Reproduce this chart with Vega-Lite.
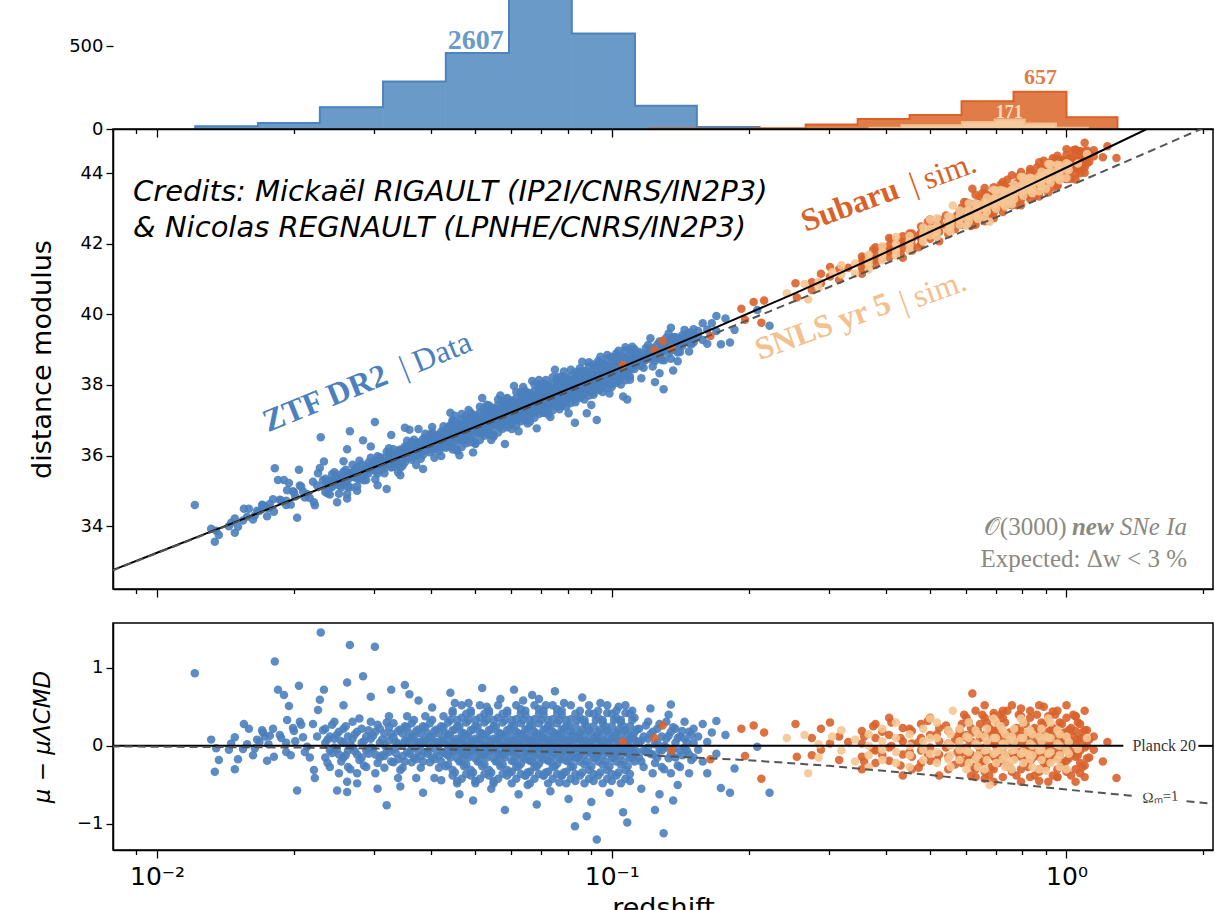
{
"$schema": "https://vega.github.io/schema/vega-lite/v6.json",
"background": "white",
"padding": {"left": 27, "top": 0, "right": 0, "bottom": 0},
"config": {
  "font": "DejaVu Sans",
  "view": {"stroke": "black", "strokeWidth": 1.5},
  "axis": {"grid": false, "domainColor": "black", "domainWidth": 1.5, "tickColor": "black", "tickWidth": 1.3, "labelColor": "black", "titleColor": "black", "labelFont": "DejaVu Sans", "titleFont": "DejaVu Sans", "titleFontWeight": "normal", "labelFlush": false, "labelOverlap": false}
},
"datasets": {
"ztf": [
{"lz":-1.917,"res":0.93,"mu":34.6},{"lz":-1.881,"res":0.08,"mu":33.93},{"lz":-1.873,"res":-0.33,"mu":33.56},{"lz":-1.87,"res":-0.03,"mu":33.87},{"lz":-1.864,"res":-0.18,"mu":33.75},{"lz":-1.842,"res":-0.05,"mu":34.0},{"lz":-1.837,"res":0.03,"mu":34.1},{"lz":-1.829,"res":0.11,"mu":34.22},{"lz":-1.829,"res":-0.3,"mu":33.81},{"lz":-1.822,"res":-0.17,"mu":33.98},{"lz":-1.811,"res":-0.04,"mu":34.16},{"lz":-1.809,"res":0.28,"mu":34.49},{"lz":-1.802,"res":0.02,"mu":34.27},{"lz":-1.798,"res":0.22,"mu":34.49},{"lz":-1.789,"res":-0.12,"mu":34.19},{"lz":-1.785,"res":-0.03,"mu":34.3},{"lz":-1.78,"res":0.08,"mu":34.44},{"lz":-1.775,"res":0.05,"mu":34.43},{"lz":-1.769,"res":0.2,"mu":34.61},{"lz":-1.767,"res":0.17,"mu":34.59},{"lz":-1.763,"res":0.12,"mu":34.56},{"lz":-1.758,"res":-0.19,"mu":34.28},{"lz":-1.755,"res":0.02,"mu":34.51},{"lz":-1.752,"res":0.13,"mu":34.63},{"lz":-1.745,"res":0.22,"mu":34.76},{"lz":-1.743,"res":-0.14,"mu":34.41},{"lz":-1.741,"res":1.08,"mu":35.64},{"lz":-1.734,"res":0.72,"mu":35.31},{"lz":-1.73,"res":0.14,"mu":34.75},{"lz":-1.727,"res":0.1,"mu":34.73},{"lz":-1.721,"res":0.65,"mu":35.31},{"lz":-1.716,"res":0.04,"mu":34.72},{"lz":-1.716,"res":-0.08,"mu":34.6},{"lz":-1.714,"res":0.33,"mu":35.02},{"lz":-1.71,"res":0.51,"mu":35.22},{"lz":-1.706,"res":-0.12,"mu":34.61},{"lz":-1.701,"res":0.23,"mu":34.99},{"lz":-1.699,"res":0.19,"mu":34.96},{"lz":-1.696,"res":0.06,"mu":34.84},{"lz":-1.692,"res":-0.57,"mu":34.24},{"lz":-1.688,"res":0.77,"mu":35.6},{"lz":-1.686,"res":0.31,"mu":35.15},{"lz":-1.683,"res":0.27,"mu":35.12},{"lz":-1.679,"res":0.11,"mu":34.98},{"lz":-1.675,"res":-0.08,"mu":34.81},{"lz":-1.67,"res":-0.01,"mu":34.91},{"lz":-1.664,"res":-0.15,"mu":34.8},{"lz":-1.657,"res":0.28,"mu":35.26},{"lz":-1.655,"res":-0.31,"mu":34.68},{"lz":-1.653,"res":-0.41,"mu":34.59},{"lz":-1.648,"res":0.12,"mu":35.15},{"lz":-1.646,"res":0.46,"mu":35.5},{"lz":-1.642,"res":0.59,"mu":35.65},{"lz":-1.64,"res":1.45,"mu":36.52},{"lz":-1.635,"res":0.2,"mu":35.3},{"lz":-1.633,"res":0.72,"mu":35.83},
{"lz":-1.63,"res":0.04,"mu":35.16},{"lz":-1.63,"res":-0.15,"mu":34.97},{"lz":-1.63,"res":0.22,"mu":35.34},
{"lz":-1.62,"res":-0.06,"mu":35.11},{"lz":-1.62,"res":0.12,"mu":35.29},{"lz":-1.62,"res":-0.27,"mu":34.9},
{"lz":-1.61,"res":0.09,"mu":35.31},{"lz":-1.61,"res":-0.02,"mu":35.2},{"lz":-1.61,"res":0.31,"mu":35.53},
{"lz":-1.6,"res":-0.11,"mu":35.16},{"lz":-1.6,"res":0.18,"mu":35.45},{"lz":-1.6,"res":-0.35,"mu":34.92},
{"lz":-1.59,"res":0.04,"mu":35.36},{"lz":-1.59,"res":-0.15,"mu":35.17},{"lz":-1.59,"res":0.22,"mu":35.54},
{"lz":-1.58,"res":-0.06,"mu":35.32},{"lz":-1.58,"res":0.12,"mu":35.5},{"lz":-1.58,"res":-0.27,"mu":35.11},
{"lz":-1.57,"res":0.09,"mu":35.52},{"lz":-1.57,"res":-0.02,"mu":35.41},{"lz":-1.57,"res":0.31,"mu":35.74},
{"lz":-1.56,"res":-0.11,"mu":35.37},{"lz":-1.56,"res":0.18,"mu":35.66},{"lz":-1.56,"res":-0.35,"mu":35.13},
{"lz":-1.55,"res":0.04,"mu":35.57},{"lz":-1.55,"res":-0.15,"mu":35.38},{"lz":-1.55,"res":0.22,"mu":35.75},
{"lz":-1.54,"res":-0.06,"mu":35.52},{"lz":-1.54,"res":0.12,"mu":35.7},{"lz":-1.54,"res":-0.27,"mu":35.31},
{"lz":-1.53,"res":0.09,"mu":35.72},{"lz":-1.53,"res":-0.02,"mu":35.61},{"lz":-1.53,"res":0.31,"mu":35.94},
{"lz":-1.52,"res":-0.11,"mu":35.57},{"lz":-1.52,"res":0.18,"mu":35.86},{"lz":-1.52,"res":-0.35,"mu":35.33},
{"lz":-1.51,"res":0.04,"mu":35.77},{"lz":-1.51,"res":-0.15,"mu":35.58},{"lz":-1.51,"res":0.22,"mu":35.95},
{"lz":-1.604,"res":-0.57,"mu":34.68},{"lz":-1.582,"res":-0.59,"mu":34.78},{"lz":-1.582,"res":-0.46,"mu":34.91},{"lz":-1.582,"res":0.81,"mu":36.18},{"lz":-1.576,"res":1.29,"mu":36.69},{"lz":-1.547,"res":0.89,"mu":36.43},{"lz":-1.521,"res":1.27,"mu":36.95},{"lz":-1.495,"res":-0.76,"mu":35.05},{"lz":-1.59,"res":0.52,"mu":35.84},{"lz":-1.56,"res":-0.48,"mu":35.0},{"lz":-1.53,"res":0.63,"mu":36.26},{"lz":-1.515,"res":-0.55,"mu":35.16},
{"lz":-1.5,"res":0.01,"mu":35.79},{"lz":-1.5,"res":-0.13,"mu":35.65},{"lz":-1.5,"res":0.16,"mu":35.94},{"lz":-1.5,"res":-0.28,"mu":35.5},
{"lz":-1.49,"res":0.07,"mu":35.9},{"lz":-1.49,"res":-0.08,"mu":35.75},{"lz":-1.49,"res":0.24,"mu":36.07},{"lz":-1.49,"res":0.38,"mu":36.21},
{"lz":-1.48,"res":-0.04,"mu":35.85},{"lz":-1.48,"res":0.11,"mu":36.0},{"lz":-1.48,"res":-0.21,"mu":35.68},{"lz":-1.48,"res":0.29,"mu":36.18},
{"lz":-1.47,"res":0.03,"mu":35.97},{"lz":-1.47,"res":-0.17,"mu":35.77},{"lz":-1.47,"res":0.19,"mu":36.13},{"lz":-1.47,"res":-0.41,"mu":35.53},
{"lz":-1.46,"res":0.01,"mu":36.0},{"lz":-1.46,"res":-0.13,"mu":35.86},{"lz":-1.46,"res":0.16,"mu":36.15},{"lz":-1.46,"res":-0.28,"mu":35.71},
{"lz":-1.45,"res":0.07,"mu":36.11},{"lz":-1.45,"res":-0.08,"mu":35.96},{"lz":-1.45,"res":0.24,"mu":36.28},{"lz":-1.45,"res":0.38,"mu":36.42},
{"lz":-1.44,"res":-0.04,"mu":36.05},{"lz":-1.44,"res":0.11,"mu":36.2},{"lz":-1.44,"res":-0.21,"mu":35.88},{"lz":-1.44,"res":0.29,"mu":36.38},
{"lz":-1.43,"res":0.03,"mu":36.17},{"lz":-1.43,"res":-0.17,"mu":35.97},{"lz":-1.43,"res":0.19,"mu":36.33},{"lz":-1.43,"res":-0.41,"mu":35.73},
{"lz":-1.42,"res":0.01,"mu":36.2},{"lz":-1.42,"res":-0.13,"mu":36.06},{"lz":-1.42,"res":0.16,"mu":36.35},{"lz":-1.42,"res":-0.28,"mu":35.91},
{"lz":-1.41,"res":0.07,"mu":36.31},{"lz":-1.41,"res":-0.08,"mu":36.16},{"lz":-1.41,"res":0.24,"mu":36.48},{"lz":-1.41,"res":0.38,"mu":36.62},
{"lz":-1.4,"res":-0.04,"mu":36.26},{"lz":-1.4,"res":0.11,"mu":36.41},{"lz":-1.4,"res":-0.21,"mu":36.09},{"lz":-1.4,"res":0.29,"mu":36.59},
{"lz":-1.39,"res":0.03,"mu":36.38},{"lz":-1.39,"res":-0.17,"mu":36.18},{"lz":-1.39,"res":0.19,"mu":36.54},{"lz":-1.39,"res":-0.41,"mu":35.94},
{"lz":-1.38,"res":0.01,"mu":36.41},{"lz":-1.38,"res":-0.13,"mu":36.27},{"lz":-1.38,"res":0.16,"mu":36.56},{"lz":-1.38,"res":-0.28,"mu":36.12},
{"lz":-1.37,"res":0.07,"mu":36.52},{"lz":-1.37,"res":-0.08,"mu":36.37},{"lz":-1.37,"res":0.24,"mu":36.69},{"lz":-1.37,"res":0.38,"mu":36.83},
{"lz":-1.485,"res":0.72,"mu":36.58},{"lz":-1.465,"res":-0.52,"mu":35.44},{"lz":-1.445,"res":0.66,"mu":36.73},{"lz":-1.425,"res":0.58,"mu":36.75},{"lz":-1.415,"res":-0.6,"mu":35.62},{"lz":-1.395,"res":0.49,"mu":36.81},{"lz":-1.375,"res":-0.44,"mu":35.99},{"lz":-1.455,"res":0.78,"mu":36.79},
{"lz":-1.36,"res":0.0,"mu":36.5},{"lz":-1.36,"res":-0.12,"mu":36.38},{"lz":-1.36,"res":0.14,"mu":36.64},{"lz":-1.36,"res":-0.24,"mu":36.26},{"lz":-1.36,"res":0.3,"mu":36.8},
{"lz":-1.35,"res":0.05,"mu":36.6},{"lz":-1.35,"res":-0.07,"mu":36.48},{"lz":-1.35,"res":0.2,"mu":36.75},{"lz":-1.35,"res":-0.31,"mu":36.24},{"lz":-1.35,"res":0.42,"mu":36.97},
{"lz":-1.34,"res":-0.03,"mu":36.58},{"lz":-1.34,"res":0.09,"mu":36.7},{"lz":-1.34,"res":-0.16,"mu":36.45},{"lz":-1.34,"res":0.25,"mu":36.86},{"lz":-1.34,"res":-0.45,"mu":36.16},
{"lz":-1.33,"res":0.08,"mu":36.74},{"lz":-1.33,"res":-0.1,"mu":36.56},{"lz":-1.33,"res":0.17,"mu":36.83},{"lz":-1.33,"res":-0.2,"mu":36.46},{"lz":-1.33,"res":0.36,"mu":37.02},
{"lz":-1.32,"res":0.0,"mu":36.71},{"lz":-1.32,"res":-0.12,"mu":36.59},{"lz":-1.32,"res":0.14,"mu":36.85},{"lz":-1.32,"res":-0.24,"mu":36.47},{"lz":-1.32,"res":0.3,"mu":37.01},
{"lz":-1.31,"res":0.05,"mu":36.81},{"lz":-1.31,"res":-0.07,"mu":36.69},{"lz":-1.31,"res":0.2,"mu":36.96},{"lz":-1.31,"res":-0.31,"mu":36.45},{"lz":-1.31,"res":0.42,"mu":37.18},
{"lz":-1.3,"res":-0.03,"mu":36.78},{"lz":-1.3,"res":0.09,"mu":36.9},{"lz":-1.3,"res":-0.16,"mu":36.65},{"lz":-1.3,"res":0.25,"mu":37.06},{"lz":-1.3,"res":-0.45,"mu":36.36},
{"lz":-1.29,"res":0.08,"mu":36.94},{"lz":-1.29,"res":-0.1,"mu":36.76},{"lz":-1.29,"res":0.17,"mu":37.03},{"lz":-1.29,"res":-0.2,"mu":36.66},{"lz":-1.29,"res":0.36,"mu":37.22},
{"lz":-1.28,"res":0.0,"mu":36.92},{"lz":-1.28,"res":-0.12,"mu":36.8},{"lz":-1.28,"res":0.14,"mu":37.06},{"lz":-1.28,"res":-0.24,"mu":36.68},{"lz":-1.28,"res":0.3,"mu":37.22},
{"lz":-1.27,"res":0.05,"mu":37.02},{"lz":-1.27,"res":-0.07,"mu":36.9},{"lz":-1.27,"res":0.2,"mu":37.17},{"lz":-1.27,"res":-0.31,"mu":36.66},{"lz":-1.27,"res":0.42,"mu":37.39},
{"lz":-1.26,"res":-0.03,"mu":36.99},{"lz":-1.26,"res":0.09,"mu":37.11},{"lz":-1.26,"res":-0.16,"mu":36.86},{"lz":-1.26,"res":0.25,"mu":37.27},{"lz":-1.26,"res":-0.45,"mu":36.57},
{"lz":-1.25,"res":0.08,"mu":37.15},{"lz":-1.25,"res":-0.1,"mu":36.97},{"lz":-1.25,"res":0.17,"mu":37.24},{"lz":-1.25,"res":-0.2,"mu":36.87},{"lz":-1.25,"res":0.36,"mu":37.43},
{"lz":-1.24,"res":0.0,"mu":37.12},{"lz":-1.24,"res":-0.12,"mu":37.0},{"lz":-1.24,"res":0.14,"mu":37.26},{"lz":-1.24,"res":-0.24,"mu":36.88},{"lz":-1.24,"res":0.3,"mu":37.42},
{"lz":-1.23,"res":0.05,"mu":37.23},{"lz":-1.23,"res":-0.07,"mu":37.11},{"lz":-1.23,"res":0.2,"mu":37.38},{"lz":-1.23,"res":-0.31,"mu":36.87},{"lz":-1.23,"res":0.42,"mu":37.6},
{"lz":-1.355,"res":0.68,"mu":37.21},{"lz":-1.335,"res":-0.62,"mu":36.01},{"lz":-1.315,"res":0.55,"mu":37.29},{"lz":-1.305,"res":-0.7,"mu":36.09},{"lz":-1.285,"res":0.74,"mu":37.63},{"lz":-1.265,"res":-0.55,"mu":36.44},{"lz":-1.245,"res":0.6,"mu":37.7},{"lz":-1.235,"res":-0.82,"mu":36.33},{"lz":-1.275,"res":0.5,"mu":37.44},{"lz":-1.345,"res":0.55,"mu":37.13},
{"lz":-1.22,"res":0.02,"mu":37.25},{"lz":-1.22,"res":-0.09,"mu":37.14},{"lz":-1.22,"res":0.12,"mu":37.35},{"lz":-1.22,"res":-0.19,"mu":37.04},{"lz":-1.22,"res":0.26,"mu":37.49},{"lz":-1.22,"res":-0.33,"mu":36.9},
{"lz":-1.21,"res":-0.05,"mu":37.23},{"lz":-1.21,"res":0.07,"mu":37.35},{"lz":-1.21,"res":-0.14,"mu":37.14},{"lz":-1.21,"res":0.18,"mu":37.46},{"lz":-1.21,"res":0.34,"mu":37.62},{"lz":-1.21,"res":-0.27,"mu":37.01},
{"lz":-1.2,"res":0.04,"mu":37.37},{"lz":-1.2,"res":-0.02,"mu":37.31},{"lz":-1.2,"res":0.15,"mu":37.48},{"lz":-1.2,"res":-0.23,"mu":37.1},{"lz":-1.2,"res":0.29,"mu":37.62},{"lz":-1.2,"res":0.47,"mu":37.8},
{"lz":-1.19,"res":-0.08,"mu":37.3},{"lz":-1.19,"res":0.1,"mu":37.48},{"lz":-1.19,"res":-0.17,"mu":37.21},{"lz":-1.19,"res":0.21,"mu":37.59},{"lz":-1.19,"res":-0.38,"mu":37.0},{"lz":-1.19,"res":0.4,"mu":37.78},
{"lz":-1.18,"res":0.02,"mu":37.46},{"lz":-1.18,"res":-0.09,"mu":37.35},{"lz":-1.18,"res":0.12,"mu":37.56},{"lz":-1.18,"res":-0.19,"mu":37.25},{"lz":-1.18,"res":0.26,"mu":37.7},{"lz":-1.18,"res":-0.33,"mu":37.11},
{"lz":-1.17,"res":-0.05,"mu":37.44},{"lz":-1.17,"res":0.07,"mu":37.56},{"lz":-1.17,"res":-0.14,"mu":37.35},{"lz":-1.17,"res":0.18,"mu":37.67},{"lz":-1.17,"res":0.34,"mu":37.83},{"lz":-1.17,"res":-0.27,"mu":37.22},
{"lz":-1.16,"res":0.04,"mu":37.58},{"lz":-1.16,"res":-0.02,"mu":37.52},{"lz":-1.16,"res":0.15,"mu":37.69},{"lz":-1.16,"res":-0.23,"mu":37.31},{"lz":-1.16,"res":0.29,"mu":37.83},{"lz":-1.16,"res":0.47,"mu":38.01},
{"lz":-1.15,"res":-0.08,"mu":37.51},{"lz":-1.15,"res":0.1,"mu":37.69},{"lz":-1.15,"res":-0.17,"mu":37.42},{"lz":-1.15,"res":0.21,"mu":37.8},{"lz":-1.15,"res":-0.38,"mu":37.21},{"lz":-1.15,"res":0.4,"mu":37.99},
{"lz":-1.14,"res":0.02,"mu":37.67},{"lz":-1.14,"res":-0.09,"mu":37.56},{"lz":-1.14,"res":0.12,"mu":37.77},{"lz":-1.14,"res":-0.19,"mu":37.46},{"lz":-1.14,"res":0.26,"mu":37.91},{"lz":-1.14,"res":-0.33,"mu":37.32},
{"lz":-1.13,"res":-0.05,"mu":37.65},{"lz":-1.13,"res":0.07,"mu":37.77},{"lz":-1.13,"res":-0.14,"mu":37.56},{"lz":-1.13,"res":0.18,"mu":37.88},{"lz":-1.13,"res":0.34,"mu":38.04},{"lz":-1.13,"res":-0.27,"mu":37.43},
{"lz":-1.12,"res":0.04,"mu":37.79},{"lz":-1.12,"res":-0.02,"mu":37.73},{"lz":-1.12,"res":0.15,"mu":37.9},{"lz":-1.12,"res":-0.23,"mu":37.52},{"lz":-1.12,"res":0.29,"mu":38.04},{"lz":-1.12,"res":0.47,"mu":38.22},
{"lz":-1.11,"res":-0.08,"mu":37.72},{"lz":-1.11,"res":0.1,"mu":37.9},{"lz":-1.11,"res":-0.17,"mu":37.63},{"lz":-1.11,"res":0.21,"mu":38.01},{"lz":-1.11,"res":-0.38,"mu":37.42},{"lz":-1.11,"res":0.4,"mu":38.2},
{"lz":-1.1,"res":0.02,"mu":37.88},{"lz":-1.1,"res":-0.09,"mu":37.77},{"lz":-1.1,"res":0.12,"mu":37.98},{"lz":-1.1,"res":-0.19,"mu":37.67},{"lz":-1.1,"res":0.26,"mu":38.12},{"lz":-1.1,"res":-0.33,"mu":37.53},
{"lz":-1.09,"res":-0.05,"mu":37.86},{"lz":-1.09,"res":0.07,"mu":37.98},{"lz":-1.09,"res":-0.14,"mu":37.77},{"lz":-1.09,"res":0.18,"mu":38.09},{"lz":-1.09,"res":0.34,"mu":38.25},{"lz":-1.09,"res":-0.27,"mu":37.64},
{"lz":-1.215,"res":0.72,"mu":37.97},{"lz":-1.205,"res":-0.62,"mu":36.69},{"lz":-1.195,"res":0.58,"mu":37.94},{"lz":-1.185,"res":-0.5,"mu":36.91},{"lz":-1.175,"res":0.65,"mu":38.11},{"lz":-1.165,"res":-0.75,"mu":36.77},{"lz":-1.145,"res":0.52,"mu":38.14},{"lz":-1.135,"res":-0.58,"mu":37.09},{"lz":-1.125,"res":0.7,"mu":38.43},{"lz":-1.115,"res":-0.47,"mu":37.31},{"lz":-1.105,"res":0.55,"mu":38.38},{"lz":-1.095,"res":-0.68,"mu":37.2},{"lz":-1.16,"res":0.6,"mu":38.14},
{"lz":-1.08,"res":-0.03,"mu":37.93},{"lz":-1.08,"res":0.09,"mu":38.05},{"lz":-1.08,"res":-0.16,"mu":37.8},{"lz":-1.08,"res":0.25,"mu":38.21},{"lz":-1.08,"res":-0.45,"mu":37.51},
{"lz":-1.07,"res":0.08,"mu":38.1},{"lz":-1.07,"res":-0.1,"mu":37.92},{"lz":-1.07,"res":0.17,"mu":38.19},{"lz":-1.07,"res":-0.2,"mu":37.82},{"lz":-1.07,"res":0.36,"mu":38.38},
{"lz":-1.06,"res":0.0,"mu":38.07},{"lz":-1.06,"res":-0.12,"mu":37.95},{"lz":-1.06,"res":0.14,"mu":38.21},{"lz":-1.06,"res":-0.24,"mu":37.83},{"lz":-1.06,"res":0.3,"mu":38.37},
{"lz":-1.05,"res":0.05,"mu":38.17},{"lz":-1.05,"res":-0.07,"mu":38.05},{"lz":-1.05,"res":0.2,"mu":38.32},{"lz":-1.05,"res":-0.31,"mu":37.81},{"lz":-1.05,"res":0.42,"mu":38.54},
{"lz":-1.04,"res":-0.03,"mu":38.14},{"lz":-1.04,"res":0.09,"mu":38.26},{"lz":-1.04,"res":-0.16,"mu":38.01},{"lz":-1.04,"res":0.25,"mu":38.42},{"lz":-1.04,"res":-0.45,"mu":37.72},
{"lz":-1.03,"res":0.08,"mu":38.31},{"lz":-1.03,"res":-0.1,"mu":38.13},{"lz":-1.03,"res":0.17,"mu":38.4},{"lz":-1.03,"res":-0.2,"mu":38.03},{"lz":-1.03,"res":0.36,"mu":38.59},
{"lz":-1.02,"res":0.0,"mu":38.28},{"lz":-1.02,"res":-0.12,"mu":38.16},{"lz":-1.02,"res":0.14,"mu":38.42},{"lz":-1.02,"res":-0.24,"mu":38.04},{"lz":-1.02,"res":0.3,"mu":38.58},
{"lz":-1.01,"res":0.05,"mu":38.38},{"lz":-1.01,"res":-0.07,"mu":38.26},{"lz":-1.01,"res":0.2,"mu":38.53},{"lz":-1.01,"res":-0.31,"mu":38.02},{"lz":-1.01,"res":0.42,"mu":38.75},
{"lz":-1.0,"res":-0.03,"mu":38.36},{"lz":-1.0,"res":0.09,"mu":38.48},{"lz":-1.0,"res":-0.16,"mu":38.23},{"lz":-1.0,"res":0.25,"mu":38.64},{"lz":-1.0,"res":-0.45,"mu":37.94},
{"lz":-0.99,"res":0.08,"mu":38.52},{"lz":-0.99,"res":-0.1,"mu":38.34},{"lz":-0.99,"res":0.17,"mu":38.61},{"lz":-0.99,"res":-0.2,"mu":38.24},{"lz":-0.99,"res":0.36,"mu":38.8},
{"lz":-0.98,"res":0.0,"mu":38.49},{"lz":-0.98,"res":-0.12,"mu":38.37},{"lz":-0.98,"res":0.14,"mu":38.63},{"lz":-0.98,"res":-0.24,"mu":38.25},{"lz":-0.98,"res":0.3,"mu":38.79},
{"lz":-0.97,"res":0.05,"mu":38.6},{"lz":-0.97,"res":-0.07,"mu":38.48},{"lz":-0.97,"res":0.2,"mu":38.75},{"lz":-0.97,"res":-0.31,"mu":38.24},{"lz":-0.97,"res":0.42,"mu":38.97},
{"lz":-0.96,"res":-0.03,"mu":38.57},{"lz":-0.96,"res":0.09,"mu":38.69},{"lz":-0.96,"res":-0.16,"mu":38.44},{"lz":-0.96,"res":0.25,"mu":38.85},{"lz":-0.96,"res":-0.45,"mu":38.15},
{"lz":-0.95,"res":0.08,"mu":38.73},{"lz":-0.95,"res":-0.1,"mu":38.55},{"lz":-0.95,"res":0.17,"mu":38.82},{"lz":-0.95,"res":-0.2,"mu":38.45},{"lz":-0.95,"res":0.36,"mu":39.01},
{"lz":-1.081,"res":-1.03,"mu":36.93},{"lz":-1.033,"res":-1.2,"mu":37.01},{"lz":-1.065,"res":0.62,"mu":38.66},{"lz":-1.045,"res":-0.72,"mu":37.43},{"lz":-1.025,"res":0.55,"mu":38.8},{"lz":-1.005,"res":-0.6,"mu":37.76},{"lz":-0.985,"res":0.5,"mu":38.97},{"lz":-0.975,"res":-0.85,"mu":37.67},{"lz":-0.955,"res":0.45,"mu":39.08},{"lz":-1.055,"res":-0.9,"mu":37.2},
{"lz":-0.94,"res":0.04,"mu":38.75},{"lz":-0.94,"res":-0.15,"mu":38.56},{"lz":-0.94,"res":0.22,"mu":38.93},
{"lz":-0.93,"res":-0.06,"mu":38.7},{"lz":-0.93,"res":0.12,"mu":38.88},{"lz":-0.93,"res":-0.27,"mu":38.49},
{"lz":-0.92,"res":0.09,"mu":38.91},{"lz":-0.92,"res":-0.02,"mu":38.8},{"lz":-0.92,"res":0.31,"mu":39.13},
{"lz":-0.91,"res":-0.11,"mu":38.76},{"lz":-0.91,"res":0.18,"mu":39.05},{"lz":-0.91,"res":-0.35,"mu":38.52},
{"lz":-0.9,"res":0.04,"mu":38.96},{"lz":-0.9,"res":-0.15,"mu":38.77},{"lz":-0.9,"res":0.22,"mu":39.14},
{"lz":-0.89,"res":-0.06,"mu":38.92},{"lz":-0.89,"res":0.12,"mu":39.1},{"lz":-0.89,"res":-0.27,"mu":38.71},
{"lz":-0.88,"res":0.09,"mu":39.12},{"lz":-0.88,"res":-0.02,"mu":39.01},{"lz":-0.88,"res":0.31,"mu":39.34},
{"lz":-0.87,"res":-0.11,"mu":38.98},{"lz":-0.87,"res":0.18,"mu":39.27},{"lz":-0.87,"res":-0.35,"mu":38.74},
{"lz":-0.86,"res":0.04,"mu":39.18},{"lz":-0.86,"res":-0.15,"mu":38.99},{"lz":-0.86,"res":0.22,"mu":39.36},
{"lz":-0.85,"res":-0.06,"mu":39.14},{"lz":-0.85,"res":0.12,"mu":39.32},{"lz":-0.85,"res":-0.27,"mu":38.93},
{"lz":-0.84,"res":0.09,"mu":39.34},{"lz":-0.84,"res":-0.02,"mu":39.23},{"lz":-0.84,"res":0.31,"mu":39.56},
{"lz":-0.83,"res":-0.11,"mu":39.19},{"lz":-0.83,"res":0.18,"mu":39.48},{"lz":-0.83,"res":-0.35,"mu":38.95},
{"lz":-0.82,"res":0.04,"mu":39.4},{"lz":-0.82,"res":-0.15,"mu":39.21},{"lz":-0.82,"res":0.22,"mu":39.58},
{"lz":-0.935,"res":-0.55,"mu":38.19},{"lz":-0.915,"res":0.48,"mu":39.32},{"lz":-0.895,"res":-0.62,"mu":38.33},{"lz":-0.875,"res":0.4,"mu":39.46},{"lz":-0.855,"res":-0.5,"mu":38.67},{"lz":-0.905,"res":-0.82,"mu":38.08},{"lz":-0.865,"res":-0.7,"mu":38.41},{"lz":-0.87,"res":0.53,"mu":39.62},{"lz":-0.886,"res":-1.12,"mu":37.88},{"lz":-0.966,"res":-0.98,"mu":37.59},
{"lz":-0.81,"res":0.12,"mu":39.53},{"lz":-0.81,"res":-0.05,"mu":39.36},{"lz":-0.8,"res":-0.2,"mu":39.27},{"lz":-0.8,"res":0.28,"mu":39.75},{"lz":-0.79,"res":0.05,"mu":39.57},{"lz":-0.79,"res":-0.35,"mu":39.17},{"lz":-0.78,"res":0.17,"mu":39.75},{"lz":-0.77,"res":-0.1,"mu":39.53},{"lz":-0.77,"res":0.32,"mu":39.95},{"lz":-0.76,"res":-0.54,"mu":39.15},{"lz":-0.75,"res":0.14,"mu":39.88},{"lz":-0.74,"res":-0.6,"mu":39.2},{"lz":-0.73,"res":-0.29,"mu":39.56},{"lz":-0.68,"res":-0.01,"mu":40.12},{"lz":-0.653,"res":-0.6,"mu":39.68},
{"lz":-1.455,"res":0.07,"mu":36.08},{"lz":-1.455,"res":-0.2,"mu":35.81},{"lz":-1.455,"res":0.25,"mu":36.26},
{"lz":-1.445,"res":-0.1,"mu":35.96},{"lz":-1.445,"res":0.16,"mu":36.22},{"lz":-1.445,"res":0.03,"mu":36.09},
{"lz":-1.435,"res":0.12,"mu":36.24},{"lz":-1.435,"res":-0.15,"mu":35.97},{"lz":-1.435,"res":0.33,"mu":36.45},
{"lz":-1.425,"res":-0.07,"mu":36.1},{"lz":-1.425,"res":0.05,"mu":36.22},{"lz":-1.425,"res":0.21,"mu":36.38},
{"lz":-1.415,"res":0.07,"mu":36.29},{"lz":-1.415,"res":-0.2,"mu":36.02},{"lz":-1.415,"res":0.25,"mu":36.47},
{"lz":-1.405,"res":-0.1,"mu":36.17},{"lz":-1.405,"res":0.16,"mu":36.43},{"lz":-1.405,"res":0.03,"mu":36.3},
{"lz":-1.395,"res":0.12,"mu":36.44},{"lz":-1.395,"res":-0.15,"mu":36.17},{"lz":-1.395,"res":0.33,"mu":36.65},
{"lz":-1.385,"res":-0.07,"mu":36.3},{"lz":-1.385,"res":0.05,"mu":36.42},{"lz":-1.385,"res":0.21,"mu":36.58},
{"lz":-1.375,"res":0.07,"mu":36.5},{"lz":-1.375,"res":-0.2,"mu":36.23},{"lz":-1.375,"res":0.25,"mu":36.68},
{"lz":-1.365,"res":-0.1,"mu":36.38},{"lz":-1.365,"res":0.16,"mu":36.64},{"lz":-1.365,"res":0.03,"mu":36.51},{"lz":-1.365,"res":-0.26,"mu":36.22},
{"lz":-1.355,"res":0.12,"mu":36.65},{"lz":-1.355,"res":-0.15,"mu":36.38},{"lz":-1.355,"res":0.33,"mu":36.86},{"lz":-1.355,"res":-0.02,"mu":36.51},
{"lz":-1.345,"res":-0.07,"mu":36.51},{"lz":-1.345,"res":0.05,"mu":36.63},{"lz":-1.345,"res":0.21,"mu":36.79},{"lz":-1.345,"res":-0.34,"mu":36.24},
{"lz":-1.335,"res":0.07,"mu":36.7},{"lz":-1.335,"res":-0.2,"mu":36.43},{"lz":-1.335,"res":0.25,"mu":36.88},{"lz":-1.335,"res":-0.05,"mu":36.58},
{"lz":-1.325,"res":-0.1,"mu":36.58},{"lz":-1.325,"res":0.16,"mu":36.84},{"lz":-1.325,"res":0.03,"mu":36.71},{"lz":-1.325,"res":-0.26,"mu":36.42},
{"lz":-1.315,"res":0.12,"mu":36.85},{"lz":-1.315,"res":-0.15,"mu":36.58},{"lz":-1.315,"res":0.33,"mu":37.06},{"lz":-1.315,"res":-0.02,"mu":36.71},
{"lz":-1.305,"res":-0.07,"mu":36.72},{"lz":-1.305,"res":0.05,"mu":36.84},{"lz":-1.305,"res":0.21,"mu":37.0},{"lz":-1.305,"res":-0.34,"mu":36.45},
{"lz":-1.295,"res":0.07,"mu":36.91},{"lz":-1.295,"res":-0.2,"mu":36.64},{"lz":-1.295,"res":0.25,"mu":37.09},{"lz":-1.295,"res":-0.05,"mu":36.79},
{"lz":-1.285,"res":-0.1,"mu":36.79},{"lz":-1.285,"res":0.16,"mu":37.05},{"lz":-1.285,"res":0.03,"mu":36.92},{"lz":-1.285,"res":-0.26,"mu":36.63},
{"lz":-1.275,"res":0.12,"mu":37.06},{"lz":-1.275,"res":-0.15,"mu":36.79},{"lz":-1.275,"res":0.33,"mu":37.27},{"lz":-1.275,"res":-0.02,"mu":36.92},
{"lz":-1.265,"res":-0.07,"mu":36.92},{"lz":-1.265,"res":0.05,"mu":37.04},{"lz":-1.265,"res":0.21,"mu":37.2},{"lz":-1.265,"res":-0.34,"mu":36.65},
{"lz":-1.255,"res":0.07,"mu":37.12},{"lz":-1.255,"res":-0.2,"mu":36.85},{"lz":-1.255,"res":0.25,"mu":37.3},{"lz":-1.255,"res":-0.05,"mu":37.0},
{"lz":-1.245,"res":-0.1,"mu":37.0},{"lz":-1.245,"res":0.16,"mu":37.26},{"lz":-1.245,"res":0.03,"mu":37.13},{"lz":-1.245,"res":-0.26,"mu":36.84},
{"lz":-1.235,"res":0.12,"mu":37.27},{"lz":-1.235,"res":-0.15,"mu":37.0},{"lz":-1.235,"res":0.33,"mu":37.48},{"lz":-1.235,"res":-0.02,"mu":37.13},
{"lz":-1.225,"res":-0.07,"mu":37.13},{"lz":-1.225,"res":0.05,"mu":37.25},{"lz":-1.225,"res":0.21,"mu":37.41},{"lz":-1.225,"res":-0.34,"mu":36.86},
{"lz":-1.215,"res":0.07,"mu":37.32},{"lz":-1.215,"res":-0.2,"mu":37.05},{"lz":-1.215,"res":0.25,"mu":37.5},{"lz":-1.215,"res":-0.05,"mu":37.2},
{"lz":-1.205,"res":-0.1,"mu":37.21},{"lz":-1.205,"res":0.16,"mu":37.47},{"lz":-1.205,"res":0.03,"mu":37.34},{"lz":-1.205,"res":-0.26,"mu":37.05},
{"lz":-1.195,"res":0.12,"mu":37.48},{"lz":-1.195,"res":-0.15,"mu":37.21},{"lz":-1.195,"res":0.33,"mu":37.69},{"lz":-1.195,"res":-0.02,"mu":37.34},
{"lz":-1.185,"res":-0.07,"mu":37.34},{"lz":-1.185,"res":0.05,"mu":37.46},{"lz":-1.185,"res":0.21,"mu":37.62},{"lz":-1.185,"res":-0.34,"mu":37.07},
{"lz":-1.175,"res":0.07,"mu":37.53},{"lz":-1.175,"res":-0.2,"mu":37.26},{"lz":-1.175,"res":0.25,"mu":37.71},{"lz":-1.175,"res":-0.05,"mu":37.41},
{"lz":-1.165,"res":-0.1,"mu":37.42},{"lz":-1.165,"res":0.16,"mu":37.68},{"lz":-1.165,"res":0.03,"mu":37.55},{"lz":-1.165,"res":-0.26,"mu":37.26},
{"lz":-1.155,"res":0.12,"mu":37.69},{"lz":-1.155,"res":-0.15,"mu":37.42},{"lz":-1.155,"res":0.33,"mu":37.9},{"lz":-1.155,"res":-0.02,"mu":37.55},
{"lz":-1.145,"res":-0.07,"mu":37.55},{"lz":-1.145,"res":0.05,"mu":37.67},{"lz":-1.145,"res":0.21,"mu":37.83},{"lz":-1.145,"res":-0.34,"mu":37.28},
{"lz":-1.135,"res":0.07,"mu":37.74},{"lz":-1.135,"res":-0.2,"mu":37.47},{"lz":-1.135,"res":0.25,"mu":37.92},{"lz":-1.135,"res":-0.05,"mu":37.62},
{"lz":-1.125,"res":-0.1,"mu":37.63},{"lz":-1.125,"res":0.16,"mu":37.89},{"lz":-1.125,"res":0.03,"mu":37.76},{"lz":-1.125,"res":-0.26,"mu":37.47},
{"lz":-1.115,"res":0.12,"mu":37.9},{"lz":-1.115,"res":-0.15,"mu":37.63},{"lz":-1.115,"res":0.33,"mu":38.11},{"lz":-1.115,"res":-0.02,"mu":37.76},
{"lz":-1.105,"res":-0.07,"mu":37.76},{"lz":-1.105,"res":0.05,"mu":37.88},{"lz":-1.105,"res":0.21,"mu":38.04},{"lz":-1.105,"res":-0.34,"mu":37.49},
{"lz":-1.095,"res":0.07,"mu":37.95},{"lz":-1.095,"res":-0.2,"mu":37.68},{"lz":-1.095,"res":0.25,"mu":38.13},{"lz":-1.095,"res":-0.05,"mu":37.83},
{"lz":-1.085,"res":-0.1,"mu":37.84},{"lz":-1.085,"res":0.16,"mu":38.1},{"lz":-1.085,"res":0.03,"mu":37.97},{"lz":-1.085,"res":-0.26,"mu":37.68},
{"lz":-1.075,"res":0.12,"mu":38.11},{"lz":-1.075,"res":-0.15,"mu":37.84},{"lz":-1.075,"res":0.33,"mu":38.32},{"lz":-1.075,"res":-0.02,"mu":37.97},
{"lz":-1.065,"res":-0.07,"mu":37.97},{"lz":-1.065,"res":0.05,"mu":38.09},{"lz":-1.065,"res":0.21,"mu":38.25},{"lz":-1.065,"res":-0.34,"mu":37.7},
{"lz":-1.055,"res":0.07,"mu":38.16},{"lz":-1.055,"res":-0.2,"mu":37.89},{"lz":-1.055,"res":0.25,"mu":38.34},{"lz":-1.055,"res":-0.05,"mu":38.04},
{"lz":-1.045,"res":-0.1,"mu":38.05},{"lz":-1.045,"res":0.16,"mu":38.31},{"lz":-1.045,"res":0.03,"mu":38.18},{"lz":-1.045,"res":-0.26,"mu":37.89},
{"lz":-1.035,"res":0.12,"mu":38.32},{"lz":-1.035,"res":-0.15,"mu":38.05},{"lz":-1.035,"res":0.33,"mu":38.53},{"lz":-1.035,"res":-0.02,"mu":38.18},
{"lz":-1.025,"res":-0.07,"mu":38.18},{"lz":-1.025,"res":0.05,"mu":38.3},{"lz":-1.025,"res":0.21,"mu":38.46},{"lz":-1.025,"res":-0.34,"mu":37.91},
{"lz":-1.015,"res":0.07,"mu":38.38},{"lz":-1.015,"res":-0.2,"mu":38.11},{"lz":-1.015,"res":0.25,"mu":38.56},{"lz":-1.015,"res":-0.05,"mu":38.26},
{"lz":-1.005,"res":-0.1,"mu":38.26},{"lz":-1.005,"res":0.16,"mu":38.52},{"lz":-1.005,"res":0.03,"mu":38.39},{"lz":-1.005,"res":-0.26,"mu":38.1},
{"lz":-0.995,"res":0.12,"mu":38.53},{"lz":-0.995,"res":-0.15,"mu":38.26},{"lz":-0.995,"res":0.33,"mu":38.74},{"lz":-0.995,"res":-0.02,"mu":38.39},
{"lz":-0.985,"res":-0.07,"mu":38.4},{"lz":-0.985,"res":0.05,"mu":38.52},{"lz":-0.985,"res":0.21,"mu":38.68},{"lz":-0.985,"res":-0.34,"mu":38.13},
{"lz":-0.975,"res":0.07,"mu":38.59},{"lz":-0.975,"res":-0.2,"mu":38.32},{"lz":-0.975,"res":0.25,"mu":38.77},{"lz":-0.975,"res":-0.05,"mu":38.47},
{"lz":-0.965,"res":-0.1,"mu":38.47},{"lz":-0.965,"res":0.16,"mu":38.73},{"lz":-0.965,"res":0.03,"mu":38.6},{"lz":-0.965,"res":-0.26,"mu":38.31},
{"lz":-0.955,"res":0.12,"mu":38.75},{"lz":-0.955,"res":-0.15,"mu":38.48},{"lz":-0.955,"res":0.33,"mu":38.96},{"lz":-0.955,"res":-0.02,"mu":38.61},
{"lz":-0.945,"res":-0.07,"mu":38.61},{"lz":-0.945,"res":0.05,"mu":38.73},{"lz":-0.945,"res":0.21,"mu":38.89},
{"lz":-1.625,"res":0.08,"mu":35.23},{"lz":-1.625,"res":-0.22,"mu":34.93},{"lz":-1.615,"res":-0.09,"mu":35.11},{"lz":-1.615,"res":0.27,"mu":35.47},{"lz":-1.605,"res":0.14,"mu":35.39},{"lz":-1.605,"res":-0.04,"mu":35.21},{"lz":-1.595,"res":-0.2,"mu":35.1},{"lz":-1.595,"res":0.06,"mu":35.36},{"lz":-1.585,"res":0.25,"mu":35.6},{"lz":-1.585,"res":-0.12,"mu":35.23},{"lz":-1.575,"res":0.02,"mu":35.42},{"lz":-1.575,"res":-0.3,"mu":35.1},{"lz":-1.565,"res":0.15,"mu":35.6},{"lz":-1.565,"res":-0.07,"mu":35.38},{"lz":-1.555,"res":-0.18,"mu":35.32},{"lz":-1.555,"res":0.35,"mu":35.85},{"lz":-1.545,"res":0.06,"mu":35.61},{"lz":-1.545,"res":-0.25,"mu":35.3},{"lz":-1.535,"res":-0.1,"mu":35.5},{"lz":-1.535,"res":0.2,"mu":35.8},{"lz":-1.525,"res":0.13,"mu":35.79},{"lz":-1.525,"res":-0.03,"mu":35.63},{"lz":-1.515,"res":-0.22,"mu":35.49},{"lz":-1.515,"res":0.27,"mu":35.98},{"lz":-1.505,"res":0.08,"mu":35.84},{"lz":-1.505,"res":-0.12,"mu":35.64},{"lz":-1.495,"res":-0.05,"mu":35.76},{"lz":-1.495,"res":0.3,"mu":36.11},{"lz":-1.485,"res":0.16,"mu":36.02},{"lz":-1.485,"res":-0.2,"mu":35.66},{"lz":-1.475,"res":-0.09,"mu":35.82},{"lz":-1.475,"res":0.05,"mu":35.96},{"lz":-1.465,"res":0.21,"mu":36.17},{"lz":-1.465,"res":-0.31,"mu":35.65},
{"lz":-0.935,"res":0.07,"mu":38.81},{"lz":-0.935,"res":-0.2,"mu":38.54},{"lz":-0.925,"res":-0.08,"mu":38.71},{"lz":-0.925,"res":0.26,"mu":39.05},{"lz":-0.915,"res":0.15,"mu":38.99},{"lz":-0.915,"res":-0.1,"mu":38.74},{"lz":-0.905,"res":-0.22,"mu":38.68},{"lz":-0.905,"res":0.02,"mu":38.92},{"lz":-0.895,"res":0.28,"mu":39.23},{"lz":-0.895,"res":-0.05,"mu":38.9},{"lz":-0.885,"res":0.0,"mu":39.0},{"lz":-0.885,"res":-0.3,"mu":38.7},{"lz":-0.875,"res":0.13,"mu":39.19},{"lz":-0.875,"res":-0.16,"mu":38.9},{"lz":-0.865,"res":-0.04,"mu":39.07},{"lz":-0.865,"res":0.24,"mu":39.35},{"lz":-0.855,"res":0.1,"mu":39.27},{"lz":-0.855,"res":-0.25,"mu":38.92},{"lz":-0.845,"res":-0.12,"mu":39.1},{"lz":-0.845,"res":0.19,"mu":39.41},{"lz":-0.835,"res":0.05,"mu":39.33},{"lz":-0.835,"res":-0.06,"mu":39.22},{"lz":-0.825,"res":-0.18,"mu":39.15},{"lz":-0.825,"res":0.14,"mu":39.47},
{"lz":-1.35,"res":0.45,"mu":37.0},{"lz":-1.35,"res":-0.38,"mu":36.17},{"lz":-1.34,"res":-0.48,"mu":36.13},{"lz":-1.34,"res":0.33,"mu":36.94},{"lz":-1.33,"res":0.52,"mu":37.18},{"lz":-1.33,"res":-0.42,"mu":36.24},{"lz":-1.32,"res":-0.36,"mu":36.35},{"lz":-1.32,"res":0.41,"mu":37.12},
{"lz":-1.31,"res":0.45,"mu":37.21},{"lz":-1.31,"res":-0.38,"mu":36.38},{"lz":-1.3,"res":-0.48,"mu":36.33},{"lz":-1.3,"res":0.33,"mu":37.14},{"lz":-1.29,"res":0.52,"mu":37.38},{"lz":-1.29,"res":-0.42,"mu":36.44},{"lz":-1.28,"res":-0.36,"mu":36.56},{"lz":-1.28,"res":0.41,"mu":37.33},
{"lz":-1.27,"res":0.45,"mu":37.42},{"lz":-1.27,"res":-0.38,"mu":36.59},{"lz":-1.26,"res":-0.48,"mu":36.54},{"lz":-1.26,"res":0.33,"mu":37.35},{"lz":-1.25,"res":0.52,"mu":37.59},{"lz":-1.25,"res":-0.42,"mu":36.65},{"lz":-1.24,"res":-0.36,"mu":36.76},{"lz":-1.24,"res":0.41,"mu":37.53},
{"lz":-1.23,"res":0.45,"mu":37.63},{"lz":-1.23,"res":-0.38,"mu":36.8},{"lz":-1.22,"res":-0.48,"mu":36.75},{"lz":-1.22,"res":0.33,"mu":37.56},{"lz":-1.21,"res":0.52,"mu":37.8},{"lz":-1.21,"res":-0.42,"mu":36.86},{"lz":-1.2,"res":-0.36,"mu":36.97},{"lz":-1.2,"res":0.41,"mu":37.74},
{"lz":-1.19,"res":0.45,"mu":37.83},{"lz":-1.19,"res":-0.38,"mu":37.0},{"lz":-1.18,"res":-0.48,"mu":36.96},{"lz":-1.18,"res":0.33,"mu":37.77},{"lz":-1.17,"res":0.52,"mu":38.01},{"lz":-1.17,"res":-0.42,"mu":37.07},{"lz":-1.16,"res":-0.36,"mu":37.18},{"lz":-1.16,"res":0.41,"mu":37.95},
{"lz":-1.15,"res":0.45,"mu":38.04},{"lz":-1.15,"res":-0.38,"mu":37.21},{"lz":-1.14,"res":-0.48,"mu":37.17},{"lz":-1.14,"res":0.33,"mu":37.98},{"lz":-1.13,"res":0.52,"mu":38.22},{"lz":-1.13,"res":-0.42,"mu":37.28},{"lz":-1.12,"res":-0.36,"mu":37.39},{"lz":-1.12,"res":0.41,"mu":38.16},
{"lz":-1.11,"res":0.45,"mu":38.25},{"lz":-1.11,"res":-0.38,"mu":37.42},{"lz":-1.1,"res":-0.48,"mu":37.38},{"lz":-1.1,"res":0.33,"mu":38.19},{"lz":-1.09,"res":0.52,"mu":38.43},{"lz":-1.09,"res":-0.42,"mu":37.49},{"lz":-1.08,"res":-0.36,"mu":37.6},{"lz":-1.08,"res":0.41,"mu":38.37},
{"lz":-1.07,"res":0.45,"mu":38.47},{"lz":-1.07,"res":-0.38,"mu":37.64},{"lz":-1.06,"res":-0.48,"mu":37.59},{"lz":-1.06,"res":0.33,"mu":38.4},{"lz":-1.05,"res":0.52,"mu":38.64},{"lz":-1.05,"res":-0.42,"mu":37.7},{"lz":-1.04,"res":-0.36,"mu":37.81},{"lz":-1.04,"res":0.41,"mu":38.58},
{"lz":-1.03,"res":0.45,"mu":38.68},{"lz":-1.03,"res":-0.38,"mu":37.85},{"lz":-1.02,"res":-0.48,"mu":37.8},{"lz":-1.02,"res":0.33,"mu":38.61},{"lz":-1.01,"res":0.52,"mu":38.85},{"lz":-1.01,"res":-0.42,"mu":37.91},{"lz":-1.0,"res":-0.36,"mu":38.03},{"lz":-1.0,"res":0.41,"mu":38.8},
{"lz":-0.99,"res":0.45,"mu":38.89},{"lz":-0.99,"res":-0.38,"mu":38.06},{"lz":-0.98,"res":-0.48,"mu":38.01},{"lz":-0.98,"res":0.33,"mu":38.82},{"lz":-0.97,"res":0.52,"mu":39.07},{"lz":-0.97,"res":-0.42,"mu":38.13},{"lz":-0.96,"res":-0.36,"mu":38.24},{"lz":-0.96,"res":0.41,"mu":39.01}
],
"subaru": [
{"lz":-0.976,"res":0.05,"mu":38.57},{"lz":-0.906,"res":0.1,"mu":38.99},{"lz":-0.888,"res":0.26,"mu":39.25},{"lz":-0.868,"res":-0.06,"mu":39.04},{"lz":-0.783,"res":-0.17,"mu":39.39},{"lz":-0.715,"res":0.22,"mu":40.16},{"lz":-0.688,"res":0.26,"mu":40.35},{"lz":-0.665,"res":0.17,"mu":40.39},{"lz":-0.707,"res":-0.13,"mu":39.85},{"lz":-0.671,"res":-0.42,"mu":39.76},{"lz":-0.596,"res":0.28,"mu":40.88},{"lz":-0.593,"res":-0.14,"mu":40.48},
{"lz":-0.56,"res":0.1,"mu":40.91},{"lz":-0.56,"res":-0.12,"mu":40.69},{"lz":-0.54,"res":0.22,"mu":41.15},{"lz":-0.54,"res":-0.05,"mu":40.88},{"lz":-0.52,"res":0.03,"mu":41.07},{"lz":-0.52,"res":0.3,"mu":41.34},{"lz":-0.5,"res":-0.18,"mu":40.98},{"lz":-0.5,"res":0.12,"mu":41.28},{"lz":-0.48,"res":0.05,"mu":41.32},
{"lz":-0.45,"res":0.03,"mu":41.48},{"lz":-0.45,"res":-0.14,"mu":41.31},{"lz":-0.45,"res":0.19,"mu":41.64},{"lz":-0.45,"res":-0.3,"mu":41.15},
{"lz":-0.42,"res":0.1,"mu":41.72},{"lz":-0.42,"res":-0.06,"mu":41.56},{"lz":-0.42,"res":0.28,"mu":41.9},{"lz":-0.42,"res":-0.22,"mu":41.4},
{"lz":-0.39,"res":-0.02,"mu":41.78},{"lz":-0.39,"res":0.14,"mu":41.94},{"lz":-0.39,"res":-0.19,"mu":41.61},{"lz":-0.39,"res":0.36,"mu":42.16},
{"lz":-0.36,"res":0.06,"mu":42.04},{"lz":-0.36,"res":-0.11,"mu":41.87},{"lz":-0.36,"res":0.23,"mu":42.21},{"lz":-0.36,"res":-0.38,"mu":41.6},
{"lz":-0.34,"res":0.03,"mu":42.13},{"lz":-0.34,"res":-0.14,"mu":41.96},{"lz":-0.34,"res":0.19,"mu":42.29},{"lz":-0.34,"res":-0.3,"mu":41.8},
{"lz":-0.32,"res":0.1,"mu":42.31},{"lz":-0.32,"res":-0.06,"mu":42.15},{"lz":-0.32,"res":0.28,"mu":42.49},{"lz":-0.32,"res":-0.22,"mu":41.99},
{"lz":-0.3,"res":-0.02,"mu":42.31},{"lz":-0.3,"res":0.14,"mu":42.47},{"lz":-0.3,"res":-0.19,"mu":42.14},{"lz":-0.3,"res":0.36,"mu":42.69},
{"lz":-0.28,"res":0.06,"mu":42.51},{"lz":-0.28,"res":-0.11,"mu":42.34},{"lz":-0.28,"res":0.23,"mu":42.68},{"lz":-0.28,"res":-0.38,"mu":42.07},
{"lz":-0.26,"res":0.03,"mu":42.6},{"lz":-0.26,"res":-0.14,"mu":42.43},{"lz":-0.26,"res":0.19,"mu":42.76},{"lz":-0.26,"res":-0.3,"mu":42.27},
{"lz":-0.24,"res":0.12,"mu":42.81},{"lz":-0.24,"res":-0.08,"mu":42.61},
{"lz":-0.23,"res":0.1,"mu":42.85},{"lz":-0.23,"res":-0.06,"mu":42.69},{"lz":-0.23,"res":0.28,"mu":43.03},{"lz":-0.23,"res":-0.22,"mu":42.53},
{"lz":-0.22,"res":-0.02,"mu":42.79},{"lz":-0.22,"res":0.14,"mu":42.95},{"lz":-0.22,"res":-0.19,"mu":42.62},{"lz":-0.22,"res":0.36,"mu":43.17},
{"lz":-0.21,"res":0.06,"mu":42.94},{"lz":-0.21,"res":-0.11,"mu":42.77},{"lz":-0.21,"res":0.23,"mu":43.11},{"lz":-0.21,"res":-0.38,"mu":42.5},
{"lz":-0.207,"res":0.67,"mu":43.56},
{"lz":-0.2,"res":0.03,"mu":42.97},{"lz":-0.2,"res":-0.14,"mu":42.8},{"lz":-0.2,"res":0.19,"mu":43.13},{"lz":-0.2,"res":-0.3,"mu":42.64},
{"lz":-0.19,"res":0.1,"mu":43.1},{"lz":-0.19,"res":-0.06,"mu":42.94},{"lz":-0.19,"res":0.28,"mu":43.28},{"lz":-0.19,"res":-0.22,"mu":42.78},
{"lz":-0.18,"res":-0.02,"mu":43.04},{"lz":-0.18,"res":0.14,"mu":43.2},{"lz":-0.18,"res":-0.19,"mu":42.87},{"lz":-0.18,"res":0.36,"mu":43.42},
{"lz":-0.17,"res":0.06,"mu":43.18},{"lz":-0.17,"res":-0.11,"mu":43.01},{"lz":-0.17,"res":0.23,"mu":43.35},{"lz":-0.17,"res":-0.38,"mu":42.74},
{"lz":-0.16,"res":0.03,"mu":43.21},{"lz":-0.16,"res":-0.14,"mu":43.04},{"lz":-0.16,"res":0.19,"mu":43.37},{"lz":-0.16,"res":-0.3,"mu":42.88},
{"lz":-0.15,"res":0.1,"mu":43.34},{"lz":-0.15,"res":-0.06,"mu":43.18},{"lz":-0.15,"res":0.28,"mu":43.52},{"lz":-0.15,"res":-0.22,"mu":43.02},
{"lz":-0.14,"res":-0.02,"mu":43.28},{"lz":-0.14,"res":0.14,"mu":43.44},{"lz":-0.14,"res":-0.19,"mu":43.11},{"lz":-0.14,"res":0.36,"mu":43.66},
{"lz":-0.13,"res":0.04,"mu":43.4},{"lz":-0.13,"res":-0.25,"mu":43.11},{"lz":-0.13,"res":0.45,"mu":43.81},
{"lz":-0.12,"res":0.15,"mu":43.57},{"lz":-0.12,"res":-0.09,"mu":43.33},
{"lz":-0.11,"res":0.06,"mu":43.54},{"lz":-0.11,"res":-0.11,"mu":43.37},{"lz":-0.11,"res":0.23,"mu":43.71},{"lz":-0.11,"res":-0.38,"mu":43.1},
{"lz":-0.1,"res":0.03,"mu":43.58},{"lz":-0.1,"res":-0.14,"mu":43.41},{"lz":-0.1,"res":0.19,"mu":43.74},{"lz":-0.1,"res":-0.3,"mu":43.25},
{"lz":-0.09,"res":0.1,"mu":43.71},{"lz":-0.09,"res":-0.06,"mu":43.55},{"lz":-0.09,"res":0.28,"mu":43.89},{"lz":-0.09,"res":-0.22,"mu":43.39},
{"lz":-0.08,"res":-0.02,"mu":43.65},{"lz":-0.08,"res":0.14,"mu":43.81},{"lz":-0.08,"res":-0.19,"mu":43.48},{"lz":-0.08,"res":0.36,"mu":44.03},
{"lz":-0.07,"res":0.06,"mu":43.79},{"lz":-0.07,"res":-0.11,"mu":43.62},{"lz":-0.07,"res":0.23,"mu":43.96},{"lz":-0.07,"res":-0.38,"mu":43.35},
{"lz":-0.06,"res":0.03,"mu":43.82},{"lz":-0.06,"res":-0.14,"mu":43.65},{"lz":-0.06,"res":0.19,"mu":43.98},{"lz":-0.06,"res":-0.3,"mu":43.49},
{"lz":-0.05,"res":0.1,"mu":43.95},{"lz":-0.05,"res":-0.06,"mu":43.79},{"lz":-0.05,"res":0.28,"mu":44.13},{"lz":-0.05,"res":-0.22,"mu":43.63},
{"lz":-0.04,"res":-0.02,"mu":43.89},{"lz":-0.04,"res":0.14,"mu":44.05},{"lz":-0.04,"res":-0.19,"mu":43.72},{"lz":-0.04,"res":0.36,"mu":44.27},
{"lz":-0.03,"res":0.06,"mu":44.04},{"lz":-0.03,"res":-0.11,"mu":43.87},{"lz":-0.03,"res":0.23,"mu":44.21},{"lz":-0.03,"res":-0.38,"mu":43.6},
{"lz":-0.02,"res":0.03,"mu":44.07},{"lz":-0.02,"res":-0.14,"mu":43.9},{"lz":-0.02,"res":0.19,"mu":44.23},{"lz":-0.02,"res":-0.3,"mu":43.74},
{"lz":-0.01,"res":0.1,"mu":44.2},{"lz":-0.01,"res":-0.06,"mu":44.04},{"lz":-0.01,"res":0.28,"mu":44.38},{"lz":-0.01,"res":-0.22,"mu":43.88},
{"lz":0.0,"res":-0.02,"mu":44.14},{"lz":0.0,"res":0.14,"mu":44.3},{"lz":0.0,"res":-0.19,"mu":43.97},{"lz":0.0,"res":0.36,"mu":44.52},
{"lz":0.01,"res":0.06,"mu":44.28},{"lz":0.01,"res":-0.11,"mu":44.11},{"lz":0.01,"res":0.23,"mu":44.45},{"lz":0.01,"res":-0.38,"mu":43.84},
{"lz":0.02,"res":0.03,"mu":44.31},{"lz":0.02,"res":-0.14,"mu":44.14},{"lz":0.02,"res":0.19,"mu":44.47},{"lz":0.02,"res":-0.3,"mu":43.98},
{"lz":0.03,"res":0.1,"mu":44.45},{"lz":0.03,"res":-0.06,"mu":44.29},{"lz":0.03,"res":0.28,"mu":44.63},{"lz":0.03,"res":-0.22,"mu":44.13},
{"lz":0.04,"res":-0.02,"mu":44.39},{"lz":0.04,"res":0.2,"mu":44.61},{"lz":0.04,"res":-0.25,"mu":44.16},
{"lz":0.05,"res":0.08,"mu":44.55},{"lz":0.05,"res":-0.15,"mu":44.32},{"lz":0.06,"res":0.12,"mu":44.65},{"lz":0.06,"res":-0.05,"mu":44.48},{"lz":0.08,"res":-0.2,"mu":44.45},{"lz":0.09,"res":0.05,"mu":44.76},{"lz":0.11,"res":-0.41,"mu":44.43},
{"lz":-0.1,"res":0.48,"mu":44.03},{"lz":-0.05,"res":0.5,"mu":44.35},{"lz":-0.16,"res":0.42,"mu":43.6},{"lz":-0.03,"res":0.44,"mu":44.42},{"lz":0.02,"res":0.38,"mu":44.66},{"lz":-0.06,"res":-0.45,"mu":43.34},{"lz":-0.02,"res":-0.4,"mu":43.64},{"lz":0.03,"res":-0.35,"mu":44.0},{"lz":-0.18,"res":-0.42,"mu":42.64},
{"lz":-0.235,"res":0.0,"mu":42.72},{"lz":-0.235,"res":0.2,"mu":42.92},{"lz":-0.235,"res":-0.16,"mu":42.56},
{"lz":-0.225,"res":0.12,"mu":42.9},{"lz":-0.225,"res":-0.08,"mu":42.7},{"lz":-0.225,"res":0.4,"mu":43.18},
{"lz":-0.215,"res":-0.12,"mu":42.72},{"lz":-0.215,"res":0.08,"mu":42.92},{"lz":-0.215,"res":0.3,"mu":43.14},
{"lz":-0.205,"res":0.17,"mu":43.08},{"lz":-0.205,"res":-0.27,"mu":42.64},{"lz":-0.205,"res":0.04,"mu":42.95},
{"lz":-0.195,"res":0.0,"mu":42.97},{"lz":-0.195,"res":0.2,"mu":43.17},{"lz":-0.195,"res":-0.16,"mu":42.81},
{"lz":-0.185,"res":0.12,"mu":43.15},{"lz":-0.185,"res":-0.08,"mu":42.95},{"lz":-0.185,"res":0.4,"mu":43.43},
{"lz":-0.175,"res":-0.12,"mu":42.97},{"lz":-0.175,"res":0.08,"mu":43.17},{"lz":-0.175,"res":0.3,"mu":43.39},
{"lz":-0.165,"res":0.17,"mu":43.32},{"lz":-0.165,"res":-0.27,"mu":42.88},{"lz":-0.165,"res":0.04,"mu":43.19},
{"lz":-0.155,"res":0.0,"mu":43.21},{"lz":-0.155,"res":0.2,"mu":43.41},{"lz":-0.155,"res":-0.16,"mu":43.05},
{"lz":-0.145,"res":0.12,"mu":43.39},{"lz":-0.145,"res":-0.08,"mu":43.19},{"lz":-0.145,"res":0.4,"mu":43.67},
{"lz":-0.135,"res":-0.12,"mu":43.21},{"lz":-0.135,"res":0.08,"mu":43.41},{"lz":-0.135,"res":0.3,"mu":43.63},
{"lz":-0.125,"res":0.17,"mu":43.56},{"lz":-0.125,"res":-0.27,"mu":43.12},{"lz":-0.125,"res":0.04,"mu":43.43},
{"lz":-0.115,"res":0.0,"mu":43.45},{"lz":-0.115,"res":0.2,"mu":43.65},{"lz":-0.115,"res":-0.16,"mu":43.29},
{"lz":-0.105,"res":0.12,"mu":43.63},{"lz":-0.105,"res":-0.08,"mu":43.43},{"lz":-0.105,"res":0.4,"mu":43.91},
{"lz":-0.095,"res":-0.12,"mu":43.46},{"lz":-0.095,"res":0.08,"mu":43.66},{"lz":-0.095,"res":0.3,"mu":43.88},
{"lz":-0.085,"res":0.17,"mu":43.81},{"lz":-0.085,"res":-0.27,"mu":43.37},{"lz":-0.085,"res":0.04,"mu":43.68},
{"lz":-0.075,"res":0.0,"mu":43.7},{"lz":-0.075,"res":0.2,"mu":43.9},{"lz":-0.075,"res":-0.16,"mu":43.54},
{"lz":-0.065,"res":0.12,"mu":43.88},{"lz":-0.065,"res":-0.08,"mu":43.68},{"lz":-0.065,"res":0.4,"mu":44.16},
{"lz":-0.055,"res":-0.12,"mu":43.7},{"lz":-0.055,"res":0.08,"mu":43.9},{"lz":-0.055,"res":0.3,"mu":44.12},
{"lz":-0.045,"res":0.17,"mu":44.05},{"lz":-0.045,"res":-0.27,"mu":43.61},{"lz":-0.045,"res":0.04,"mu":43.92},
{"lz":-0.035,"res":0.0,"mu":43.94},{"lz":-0.035,"res":0.2,"mu":44.14},{"lz":-0.035,"res":-0.16,"mu":43.78},
{"lz":-0.025,"res":0.12,"mu":44.13},{"lz":-0.025,"res":-0.08,"mu":43.93},{"lz":-0.025,"res":0.4,"mu":44.41},
{"lz":-0.015,"res":-0.12,"mu":43.95},{"lz":-0.015,"res":0.08,"mu":44.15},{"lz":-0.015,"res":0.3,"mu":44.37},
{"lz":-0.005,"res":0.17,"mu":44.3},{"lz":-0.005,"res":-0.27,"mu":43.86},{"lz":-0.005,"res":0.04,"mu":44.17},
{"lz":0.005,"res":0.0,"mu":44.19},{"lz":0.005,"res":0.2,"mu":44.39},{"lz":0.005,"res":-0.16,"mu":44.03},
{"lz":0.015,"res":0.12,"mu":44.37},{"lz":0.015,"res":-0.08,"mu":44.17},{"lz":0.015,"res":0.4,"mu":44.65},
{"lz":0.025,"res":-0.12,"mu":44.19},{"lz":0.025,"res":0.08,"mu":44.39},{"lz":0.025,"res":0.3,"mu":44.61},
{"lz":0.035,"res":0.17,"mu":44.55},{"lz":0.035,"res":-0.27,"mu":44.11},{"lz":0.035,"res":0.04,"mu":44.42},
{"lz":0.045,"res":0.0,"mu":44.44},{"lz":0.045,"res":0.2,"mu":44.64},{"lz":0.045,"res":-0.16,"mu":44.28},
{"lz":-0.445,"res":0.12,"mu":41.6},{"lz":-0.445,"res":-0.2,"mu":41.28},{"lz":-0.425,"res":-0.05,"mu":41.54},{"lz":-0.425,"res":0.25,"mu":41.84},{"lz":-0.405,"res":0.18,"mu":41.89},{"lz":-0.405,"res":-0.12,"mu":41.59},{"lz":-0.385,"res":0.0,"mu":41.83},{"lz":-0.385,"res":0.3,"mu":42.13},{"lz":-0.365,"res":-0.25,"mu":41.7},{"lz":-0.365,"res":0.1,"mu":42.05},{"lz":-0.345,"res":0.22,"mu":42.29},{"lz":-0.345,"res":-0.08,"mu":41.99},{"lz":-0.325,"res":0.05,"mu":42.23},{"lz":-0.325,"res":-0.28,"mu":41.9},{"lz":-0.305,"res":0.32,"mu":42.62},{"lz":-0.305,"res":-0.1,"mu":42.2},{"lz":-0.285,"res":0.15,"mu":42.57},{"lz":-0.285,"res":-0.18,"mu":42.24},{"lz":-0.265,"res":-0.02,"mu":42.52},{"lz":-0.265,"res":0.26,"mu":42.8},{"lz":-0.245,"res":0.08,"mu":42.74},{"lz":-0.245,"res":-0.24,"mu":42.42},
{"lz":-0.2,"res":0.45,"mu":43.39},{"lz":-0.2,"res":-0.4,"mu":42.54},{"lz":-0.18,"res":-0.33,"mu":42.73},{"lz":-0.18,"res":0.52,"mu":43.58},{"lz":-0.16,"res":0.38,"mu":43.56},{"lz":-0.16,"res":-0.46,"mu":42.72},{"lz":-0.14,"res":0.45,"mu":43.75},{"lz":-0.14,"res":-0.4,"mu":42.9},{"lz":-0.12,"res":-0.33,"mu":43.09},{"lz":-0.12,"res":0.52,"mu":43.94},{"lz":-0.1,"res":0.38,"mu":43.93},{"lz":-0.1,"res":-0.46,"mu":43.09},{"lz":-0.08,"res":0.45,"mu":44.12},{"lz":-0.08,"res":-0.4,"mu":43.27},{"lz":-0.06,"res":-0.33,"mu":43.46},{"lz":-0.06,"res":0.52,"mu":44.31},{"lz":-0.04,"res":0.38,"mu":44.29},{"lz":-0.04,"res":-0.46,"mu":43.45},{"lz":-0.02,"res":0.45,"mu":44.49},{"lz":-0.02,"res":-0.4,"mu":43.64},{"lz":0.0,"res":-0.33,"mu":43.83},{"lz":0.0,"res":0.52,"mu":44.68},{"lz":0.02,"res":0.38,"mu":44.66},{"lz":0.02,"res":-0.46,"mu":43.82},{"lz":0.04,"res":0.45,"mu":44.86},{"lz":0.04,"res":-0.4,"mu":44.01}
],
"snls": [
{"lz":-0.615,"res":0.1,"mu":40.6},{"lz":-0.576,"res":0.14,"mu":40.86},{"lz":-0.568,"res":-0.35,"mu":40.42},{"lz":-0.545,"res":0.02,"mu":40.92},{"lz":-0.545,"res":-0.15,"mu":40.75},{"lz":-0.515,"res":0.12,"mu":41.19},{"lz":-0.495,"res":-0.06,"mu":41.13},{"lz":-0.495,"res":0.2,"mu":41.39},{"lz":-0.465,"res":0.08,"mu":41.44},{"lz":-0.465,"res":-0.2,"mu":41.16},
{"lz":-0.435,"res":0.0,"mu":41.54},{"lz":-0.435,"res":-0.12,"mu":41.42},{"lz":-0.435,"res":0.15,"mu":41.69},{"lz":-0.435,"res":-0.27,"mu":41.27},
{"lz":-0.405,"res":0.06,"mu":41.77},{"lz":-0.405,"res":-0.05,"mu":41.66},{"lz":-0.405,"res":0.22,"mu":41.93},{"lz":-0.405,"res":-0.18,"mu":41.53},
{"lz":-0.375,"res":-0.08,"mu":41.81},{"lz":-0.375,"res":0.1,"mu":41.99},{"lz":-0.375,"res":-0.22,"mu":41.67},{"lz":-0.375,"res":0.3,"mu":42.19},
{"lz":-0.345,"res":0.0,"mu":42.07},{"lz":-0.345,"res":-0.12,"mu":41.95},{"lz":-0.345,"res":0.15,"mu":42.22},{"lz":-0.345,"res":-0.27,"mu":41.8},
{"lz":-0.315,"res":0.06,"mu":42.3},{"lz":-0.315,"res":-0.05,"mu":42.19},{"lz":-0.315,"res":0.22,"mu":42.46},{"lz":-0.315,"res":-0.18,"mu":42.06},
{"lz":-0.285,"res":-0.08,"mu":42.34},{"lz":-0.285,"res":0.1,"mu":42.52},{"lz":-0.285,"res":-0.22,"mu":42.2},{"lz":-0.285,"res":0.3,"mu":42.72},
{"lz":-0.255,"res":0.0,"mu":42.6},{"lz":-0.255,"res":-0.12,"mu":42.48},{"lz":-0.255,"res":0.15,"mu":42.75},{"lz":-0.255,"res":-0.27,"mu":42.33},
{"lz":-0.235,"res":0.06,"mu":42.78},{"lz":-0.235,"res":-0.05,"mu":42.67},{"lz":-0.235,"res":0.22,"mu":42.94},{"lz":-0.235,"res":-0.18,"mu":42.54},
{"lz":-0.215,"res":-0.08,"mu":42.76},{"lz":-0.215,"res":0.1,"mu":42.94},{"lz":-0.215,"res":-0.22,"mu":42.62},{"lz":-0.215,"res":0.3,"mu":43.14},
{"lz":-0.195,"res":0.0,"mu":42.97},{"lz":-0.195,"res":-0.12,"mu":42.85},{"lz":-0.195,"res":0.15,"mu":43.12},{"lz":-0.195,"res":-0.27,"mu":42.7},
{"lz":-0.175,"res":0.06,"mu":43.15},{"lz":-0.175,"res":-0.05,"mu":43.04},{"lz":-0.175,"res":0.22,"mu":43.31},{"lz":-0.175,"res":-0.18,"mu":42.91},
{"lz":-0.155,"res":-0.08,"mu":43.13},{"lz":-0.155,"res":0.1,"mu":43.31},{"lz":-0.155,"res":-0.22,"mu":42.99},{"lz":-0.155,"res":0.3,"mu":43.51},
{"lz":-0.135,"res":0.0,"mu":43.33},{"lz":-0.135,"res":-0.12,"mu":43.21},{"lz":-0.135,"res":0.15,"mu":43.48},{"lz":-0.135,"res":-0.27,"mu":43.06},
{"lz":-0.115,"res":0.06,"mu":43.51},{"lz":-0.115,"res":-0.05,"mu":43.4},{"lz":-0.115,"res":0.22,"mu":43.67},{"lz":-0.115,"res":-0.18,"mu":43.27},
{"lz":-0.095,"res":-0.08,"mu":43.5},{"lz":-0.095,"res":0.1,"mu":43.68},{"lz":-0.095,"res":-0.22,"mu":43.36},{"lz":-0.095,"res":0.3,"mu":43.88},
{"lz":-0.075,"res":0.0,"mu":43.7},{"lz":-0.075,"res":-0.12,"mu":43.58},{"lz":-0.075,"res":0.15,"mu":43.85},{"lz":-0.075,"res":-0.27,"mu":43.43},
{"lz":-0.055,"res":0.06,"mu":43.88},{"lz":-0.055,"res":-0.05,"mu":43.77},{"lz":-0.055,"res":0.22,"mu":44.04},{"lz":-0.055,"res":-0.18,"mu":43.64},
{"lz":-0.035,"res":-0.08,"mu":43.87},{"lz":-0.035,"res":0.1,"mu":44.05},{"lz":-0.035,"res":-0.22,"mu":43.73},{"lz":-0.035,"res":0.3,"mu":44.25},
{"lz":-0.015,"res":0.0,"mu":44.07},{"lz":-0.015,"res":-0.12,"mu":43.95},{"lz":-0.015,"res":0.15,"mu":44.22},{"lz":-0.015,"res":-0.27,"mu":43.8},
{"lz":0.005,"res":0.05,"mu":44.24},{"lz":0.005,"res":-0.1,"mu":44.09},{"lz":0.025,"res":-0.04,"mu":44.27},{"lz":0.045,"res":0.1,"mu":44.54},
{"lz":-0.169,"res":-0.5,"mu":42.62},{"lz":-0.25,"res":0.45,"mu":43.08},{"lz":-0.125,"res":0.08,"mu":43.47},{"lz":-0.125,"res":-0.2,"mu":43.19},{"lz":-0.085,"res":-0.1,"mu":43.54},{"lz":-0.085,"res":0.18,"mu":43.82},{"lz":-0.045,"res":0.12,"mu":44.0},{"lz":-0.045,"res":-0.32,"mu":43.56},{"lz":-0.145,"res":0.25,"mu":43.52},{"lz":-0.145,"res":-0.05,"mu":43.22},
{"lz":-0.2,"res":0.03,"mu":42.97},{"lz":-0.2,"res":-0.17,"mu":42.77},{"lz":-0.2,"res":0.2,"mu":43.14},
{"lz":-0.18,"res":-0.06,"mu":43.0},{"lz":-0.18,"res":0.12,"mu":43.18},{"lz":-0.18,"res":-0.3,"mu":42.76},
{"lz":-0.16,"res":0.1,"mu":43.28},{"lz":-0.16,"res":-0.1,"mu":43.08},{"lz":-0.16,"res":0.35,"mu":43.53},
{"lz":-0.14,"res":0.03,"mu":43.33},{"lz":-0.14,"res":-0.17,"mu":43.13},{"lz":-0.14,"res":0.2,"mu":43.5},
{"lz":-0.12,"res":-0.06,"mu":43.36},{"lz":-0.12,"res":0.12,"mu":43.54},{"lz":-0.12,"res":-0.3,"mu":43.12},
{"lz":-0.1,"res":0.1,"mu":43.65},{"lz":-0.1,"res":-0.1,"mu":43.45},{"lz":-0.1,"res":0.35,"mu":43.9},
{"lz":-0.08,"res":0.03,"mu":43.7},{"lz":-0.08,"res":-0.17,"mu":43.5},{"lz":-0.08,"res":0.2,"mu":43.87},
{"lz":-0.06,"res":-0.06,"mu":43.73},{"lz":-0.06,"res":0.12,"mu":43.91},{"lz":-0.06,"res":-0.3,"mu":43.49},
{"lz":-0.04,"res":0.1,"mu":44.01},{"lz":-0.04,"res":-0.1,"mu":43.81},{"lz":-0.04,"res":0.35,"mu":44.26},
{"lz":-0.02,"res":0.03,"mu":44.07},{"lz":-0.02,"res":-0.17,"mu":43.87},{"lz":-0.02,"res":0.2,"mu":44.24},
{"lz":0.0,"res":-0.06,"mu":44.1},{"lz":0.0,"res":0.12,"mu":44.28},{"lz":0.0,"res":-0.3,"mu":43.86},
{"lz":-0.3,"res":0.1,"mu":42.43},{"lz":-0.3,"res":-0.1,"mu":42.23},{"lz":-0.3,"res":0.35,"mu":42.68},
{"lz":-0.26,"res":0.03,"mu":42.6},{"lz":-0.26,"res":-0.17,"mu":42.4},{"lz":-0.26,"res":0.2,"mu":42.77},
{"lz":-0.22,"res":-0.06,"mu":42.75},{"lz":-0.22,"res":0.12,"mu":42.93},{"lz":-0.22,"res":-0.3,"mu":42.51}
],
"model": [{"lz":-2.1,"mu":32.744},{"lz":-2.0,"mu":33.248},{"lz":-1.9,"mu":33.752},{"lz":-1.8,"mu":34.257},{"lz":-1.6,"mu":35.273},{"lz":-1.4,"mu":36.296},{"lz":-1.2,"mu":37.332},{"lz":-1.0,"mu":38.386},{"lz":-0.8,"mu":39.467},{"lz":-0.6,"mu":40.581},{"lz":-0.4,"mu":41.739},{"lz":-0.2,"mu":42.935},{"lz":0.0,"mu":44.16},{"lz":0.1,"mu":44.776},{"lz":0.2,"mu":45.392},{"lz":0.33,"mu":46.19}],
"eds": [{"lz":-2.1,"mu":32.737},{"lz":-2.0,"mu":33.237},{"lz":-1.7,"mu":34.743},{"lz":-1.3,"mu":36.762},{"lz":-1.0,"mu":38.288},{"lz":-0.7,"mu":39.837},{"lz":-0.523,"mu":40.768},{"lz":-0.301,"mu":41.953},{"lz":-0.155,"mu":42.747},{"lz":0.0,"mu":43.6},{"lz":0.176,"mu":44.579},{"lz":0.322,"mu":45.399},{"lz":0.33,"mu":45.444}],
"planck_res": [{"seg":"a","lz":-2.1,"res":0},{"seg":"a","lz":0.125,"res":0},{"seg":"b","lz":0.29,"res":0},{"seg":"b","lz":0.33,"res":0}],
"eds_res": [{"seg":"a","lz":-2.1,"res":-0.007},{"seg":"a","lz":-2.0,"res":-0.011},{"seg":"a","lz":-1.7,"res":-0.021},{"seg":"a","lz":-1.3,"res":-0.05},{"seg":"a","lz":-1.0,"res":-0.098},{"seg":"a","lz":-0.7,"res":-0.183},{"seg":"a","lz":-0.523,"res":-0.256},{"seg":"a","lz":-0.301,"res":-0.373},{"seg":"a","lz":-0.155,"res":-0.462},{"seg":"a","lz":0.0,"res":-0.56},{"seg":"a","lz":0.147,"res":-0.64},{"seg":"b","lz":0.264,"res":-0.71},{"seg":"b","lz":0.33,"res":-0.745}],
"hz_bins": [{"lz":-1.916,"lz1":-1.778,"count":16},{"lz":-1.778,"lz1":-1.642,"count":37},{"lz":-1.642,"lz1":-1.503,"count":132},{"lz":-1.503,"lz1":-1.365,"count":287},{"lz":-1.365,"lz1":-1.226,"count":460},{"lz":-1.226,"lz1":-1.088,"count":946},{"lz":-1.088,"lz1":-0.949,"count":577},{"lz":-0.949,"lz1":-0.813,"count":140},{"lz":-0.813,"lz1":-0.675,"count":12}],
"hz_step": [{"i":0,"lz":-1.916,"count":0},{"i":1,"lz":-1.916,"count":16},{"i":2,"lz":-1.778,"count":16},{"i":3,"lz":-1.778,"count":37},{"i":4,"lz":-1.642,"count":37},{"i":5,"lz":-1.642,"count":132},{"i":6,"lz":-1.503,"count":132},{"i":7,"lz":-1.503,"count":287},{"i":8,"lz":-1.365,"count":287},{"i":9,"lz":-1.365,"count":460},{"i":10,"lz":-1.226,"count":460},{"i":11,"lz":-1.226,"count":946},{"i":12,"lz":-1.088,"count":946},{"i":13,"lz":-1.088,"count":577},{"i":14,"lz":-0.949,"count":577},{"i":15,"lz":-0.949,"count":140},{"i":16,"lz":-0.813,"count":140},{"i":17,"lz":-0.813,"count":12},{"i":18,"lz":-0.675,"count":12},{"i":19,"lz":-0.675,"count":0}],
"hs_bins": [{"lz":-0.9165,"lz1":-0.8022,"count":3},{"lz":-0.8022,"lz1":-0.6879,"count":2},{"lz":-0.6879,"lz1":-0.5736,"count":4},{"lz":-0.5736,"lz1":-0.4593,"count":27},{"lz":-0.4593,"lz1":-0.3451,"count":61},{"lz":-0.3451,"lz1":-0.2308,"count":85},{"lz":-0.2308,"lz1":-0.1165,"count":168},{"lz":-0.1165,"lz1":0.0,"count":225},{"lz":0.0,"lz1":0.1121,"count":71}],
"hs_step": [{"i":0,"lz":-0.9165,"count":0},{"i":1,"lz":-0.9165,"count":3},{"i":2,"lz":-0.8022,"count":3},{"i":3,"lz":-0.8022,"count":2},{"i":4,"lz":-0.6879,"count":2},{"i":5,"lz":-0.6879,"count":4},{"i":6,"lz":-0.5736,"count":4},{"i":7,"lz":-0.5736,"count":27},{"i":8,"lz":-0.4593,"count":27},{"i":9,"lz":-0.4593,"count":61},{"i":10,"lz":-0.3451,"count":61},{"i":11,"lz":-0.3451,"count":85},{"i":12,"lz":-0.2308,"count":85},{"i":13,"lz":-0.2308,"count":168},{"i":14,"lz":-0.1165,"count":168},{"i":15,"lz":-0.1165,"count":225},{"i":16,"lz":0.0,"count":225},{"i":17,"lz":0.0,"count":71},{"i":18,"lz":0.1121,"count":71},{"i":19,"lz":0.1121,"count":0}],
"hl_bins": [{"lz":-0.433,"lz1":-0.363,"count":8},{"lz":-0.363,"lz1":-0.23,"count":23},{"lz":-0.23,"lz1":-0.158,"count":42},{"lz":-0.158,"lz1":-0.092,"count":57},{"lz":-0.092,"lz1":-0.023,"count":34},{"lz":-0.023,"lz1":0.047,"count":8}],
"hl_step": [{"i":0,"lz":-0.433,"count":0},{"i":1,"lz":-0.433,"count":8},{"i":2,"lz":-0.363,"count":8},{"i":3,"lz":-0.363,"count":23},{"i":4,"lz":-0.23,"count":23},{"i":5,"lz":-0.23,"count":42},{"i":6,"lz":-0.158,"count":42},{"i":7,"lz":-0.158,"count":57},{"i":8,"lz":-0.092,"count":57},{"i":9,"lz":-0.092,"count":34},{"i":10,"lz":-0.023,"count":34},{"i":11,"lz":-0.023,"count":8},{"i":12,"lz":0.047,"count":8},{"i":13,"lz":0.047,"count":0}]
},
"vconcat": [
{
"width": 1100, "height": 129,
"view": {"stroke": null},
"encoding": {
  "x": {"field": "lz", "type": "quantitative", "scale": {"domain": [-2.0969, 0.3222], "nice": false, "zero": false},
        "axis": {"values": [-2.04576,-2,-1.69897,-1.52288,-1.39794,-1.30103,-1.22185,-1.1549,-1.09691,-1.04576,-1,-0.69897,-0.52288,-0.39794,-0.30103,-0.22185,-0.1549,-0.09691,-0.04576,0,0.30103],
                 "labels": false, "title": null, "tickSize": {"condition": {"test": "datum.value == -2 || datum.value == -1 || datum.value == 0", "value": 8}, "value": 4.5}}},
  "y": {"field": "count", "type": "quantitative", "scale": {"domain": [0, 780], "nice": false, "zero": false},
        "axis": {"values": [0, 500], "domain": false, "title": null, "tickSize": 7, "labelFontSize": 18, "labelPadding": 3}}
},
"layer": [
  {"data": {"name": "hz_bins"}, "mark": {"type": "rect", "color": "#6a9bc8", "stroke": "#6a9bc8", "strokeWidth": 0.8, "clip": true}, "encoding": {"x2": {"field": "lz1"}, "y2": {"datum": 0}}},
  {"data": {"name": "hz_step"}, "mark": {"type": "line", "color": "#4d83be", "strokeWidth": 2, "clip": true}, "encoding": {"order": {"field": "i", "type": "quantitative"}}},
  {"data": {"name": "hs_bins"}, "mark": {"type": "rect", "color": "#e07c48", "stroke": "#e07c48", "strokeWidth": 0.8, "clip": true}, "encoding": {"x2": {"field": "lz1"}, "y2": {"datum": 0}}},
  {"data": {"name": "hs_step"}, "mark": {"type": "line", "color": "#d9622b", "strokeWidth": 2, "clip": true}, "encoding": {"order": {"field": "i", "type": "quantitative"}}},
  {"data": {"name": "hl_bins"}, "mark": {"type": "rect", "color": "#f6cba0", "stroke": "#f6cba0", "strokeWidth": 0.8, "clip": true}, "encoding": {"x2": {"field": "lz1"}, "y2": {"datum": 0}}},
  {"data": {"name": "hl_step"}, "mark": {"type": "line", "color": "#f3be8a", "strokeWidth": 2, "clip": true}, "encoding": {"order": {"field": "i", "type": "quantitative"}}},
  {"data": {"values": [{"t": "2607", "lz": -1.2989, "count": 532}]}, "mark": {"type": "text", "font": "Liberation Serif", "fontWeight": "bold", "fontSize": 28, "color": "#6a9bc8", "align": "center", "baseline": "middle"}, "encoding": {"text": {"field": "t"}}},
  {"data": {"values": [{"t": "657", "lz": -0.0571, "count": 314}]}, "mark": {"type": "text", "font": "Liberation Serif", "fontWeight": "bold", "fontSize": 22, "color": "#e07c48", "align": "center", "baseline": "middle"}, "encoding": {"text": {"field": "t"}}},
  {"data": {"values": [{"t": "171", "lz": -0.1259, "count": 97}]}, "mark": {"type": "text", "font": "Liberation Serif", "fontWeight": "bold", "fontSize": 18, "color": "#f9dcbc", "align": "center", "baseline": "middle"}, "encoding": {"text": {"field": "t"}}}
]
},
{
"width": 1100, "height": 460,
"encoding": {
  "x": {"field": "lz", "type": "quantitative", "scale": {"domain": [-2.0969, 0.3222], "nice": false, "zero": false},
        "axis": {"values": [-2.04576,-2,-1.69897,-1.52288,-1.39794,-1.30103,-1.22185,-1.1549,-1.09691,-1.04576,-1,-0.69897,-0.52288,-0.39794,-0.30103,-0.22185,-0.1549,-0.09691,-0.04576,0,0.30103],
                 "labels": false, "title": null, "tickSize": {"condition": {"test": "datum.value == -2 || datum.value == -1 || datum.value == 0", "value": 8}, "value": 4.5}}},
  "y": {"field": "mu", "type": "quantitative", "scale": {"domain": [32.22, 45.25], "nice": false, "zero": false},
        "axis": {"values": [34, 36, 38, 40, 42, 44], "title": "distance modulus", "titleFontSize": 27, "titlePadding": 24, "tickSize": 7, "labelFontSize": 18, "labelPadding": 3}}
},
"layer": [
  {"data": {"name": "ztf"}, "mark": {"type": "circle", "size": 72, "opacity": 0.9, "color": "#4a80bc"}},
  {"data": {"name": "subaru"}, "mark": {"type": "circle", "size": 72, "opacity": 0.9, "color": "#d9622b"}},
  {"data": {"name": "snls"}, "mark": {"type": "circle", "size": 72, "opacity": 0.9, "color": "#f5c594"}},
  {"data": {"name": "model"}, "mark": {"type": "line", "color": "black", "strokeWidth": 2, "clip": true}, "encoding": {}},
  {"data": {"name": "eds"}, "mark": {"type": "line", "color": "#555555", "strokeWidth": 2, "strokeDash": [8, 5], "clip": true}, "encoding": {}},
  {"data": {"values": [{"t": "Credits: Mickaël RIGAULT (IP2I/CNRS/IN2P3)", "lz": -2.0527, "mu": 43.46}, {"t": "& Nicolas REGNAULT (LPNHE/CNRS/IN2P3)", "lz": -2.0527, "mu": 42.44}]}, "mark": {"type": "text", "font": "DejaVu Sans", "fontStyle": "italic", "fontSize": 29, "color": "black", "align": "left", "baseline": "middle"}, "encoding": {"text": {"field": "t"}}},
  {"data": {"values": [{"t": "ZTF DR2", "lz": -1.756, "mu": 36.66}]}, "mark": {"type": "text", "font": "Liberation Serif", "fontWeight": "bold", "fontSize": 32, "color": "#4a80bc", "align": "left", "baseline": "alphabetic", "angle": 338}, "encoding": {"text": {"field": "t"}}},
  {"data": {"values": [{"t": "| Data", "lz": -1.3033, "mu": 38.99}]}, "mark": {"type": "text", "font": "Liberation Serif", "fontSize": 32, "color": "#4a80bc", "align": "right", "baseline": "alphabetic", "angle": 338}, "encoding": {"text": {"field": "t"}}},
  {"data": {"values": [{"t": "Subaru", "lz": -0.5736, "mu": 42.33}]}, "mark": {"type": "text", "font": "Liberation Serif", "fontWeight": "bold", "fontSize": 32, "color": "#d9622b", "align": "left", "baseline": "alphabetic", "angle": 340}, "encoding": {"text": {"field": "t"}}},
  {"data": {"values": [{"t": "| sim.", "lz": -0.1934, "mu": 44.06}]}, "mark": {"type": "text", "font": "Liberation Serif", "fontSize": 32, "color": "#d9622b", "align": "right", "baseline": "alphabetic", "angle": 340}, "encoding": {"text": {"field": "t"}}},
  {"data": {"values": [{"t": "SNLS yr 5", "lz": -0.6747, "mu": 38.7}]}, "mark": {"type": "text", "font": "Liberation Serif", "fontWeight": "bold", "fontSize": 32, "color": "#f3c08f", "align": "left", "baseline": "alphabetic", "angle": 340}, "encoding": {"text": {"field": "t"}}},
  {"data": {"values": [{"t": "| sim.", "lz": -0.2154, "mu": 40.71}]}, "mark": {"type": "text", "font": "Liberation Serif", "fontSize": 32, "color": "#f3c08f", "align": "right", "baseline": "alphabetic", "angle": 340}, "encoding": {"text": {"field": "t"}}},
  {"data": {"values": [{"t": "𝒪(3000)", "lz": 0.0, "mu": 33.97}]}, "mark": {"type": "text", "font": "Liberation Serif", "fontSize": 25, "color": "#8a8a82", "align": "right", "baseline": "middle"}, "encoding": {"text": {"field": "t"}}},
  {"data": {"values": [{"t": "new", "lz": 0.1036, "mu": 33.97}]}, "mark": {"type": "text", "font": "Liberation Serif", "fontSize": 25, "fontWeight": "bold", "fontStyle": "italic", "color": "#8a8a82", "align": "right", "baseline": "middle"}, "encoding": {"text": {"field": "t"}}},
  {"data": {"values": [{"t": "SNe Ia", "lz": 0.2651, "mu": 33.97}]}, "mark": {"type": "text", "font": "Liberation Serif", "fontSize": 25, "fontStyle": "italic", "color": "#8a8a82", "align": "right", "baseline": "middle"}, "encoding": {"text": {"field": "t"}}},
  {"data": {"values": [{"t": "Expected: Δw < 3 %", "lz": 0.2651, "mu": 33.065}]}, "mark": {"type": "text", "font": "Liberation Serif", "fontSize": 25, "color": "#8a8a82", "align": "right", "baseline": "middle"}, "encoding": {"text": {"field": "t"}}}
]
},
{
"width": 1100, "height": 34,
"view": {"stroke": null},
"data": {"values": [{"k": 1}]},
"mark": {"type": "text", "text": ""},
"encoding": {}
},
{
"width": 1100, "height": 227,
"encoding": {
  "x": {"field": "lz", "type": "quantitative", "scale": {"domain": [-2.0969, 0.3222], "nice": false, "zero": false},
        "axis": {"values": [-2.04576,-2,-1.69897,-1.52288,-1.39794,-1.30103,-1.22185,-1.1549,-1.09691,-1.04576,-1,-0.69897,-0.52288,-0.39794,-0.30103,-0.22185,-0.1549,-0.09691,-0.04576,0,0.30103],
                 "labelExpr": "datum.value == -2 ? '10⁻²' : datum.value == -1 ? '10⁻¹' : datum.value == 0 ? '10⁰' : ''",
                 "labelFontSize": 25, "labelPadding": 6, "title": "redshift", "titleFontSize": 27, "titlePadding": 6,
                 "tickSize": {"condition": {"test": "datum.value == -2 || datum.value == -1 || datum.value == 0", "value": 8}, "value": 4.5}}},
  "y": {"field": "res", "type": "quantitative", "scale": {"domain": [-1.333, 1.573], "nice": false, "zero": false},
        "axis": {"values": [-1, 0, 1], "title": "μ − μΛCMD", "titleFontSize": 23, "titleFontStyle": "italic", "titlePadding": 22, "tickSize": 7, "labelFontSize": 18, "labelPadding": 3}}
},
"layer": [
  {"data": {"name": "ztf"}, "mark": {"type": "circle", "size": 72, "opacity": 0.9, "color": "#4a80bc"}},
  {"data": {"name": "subaru"}, "mark": {"type": "circle", "size": 72, "opacity": 0.9, "color": "#d9622b"}},
  {"data": {"name": "snls"}, "mark": {"type": "circle", "size": 72, "opacity": 0.9, "color": "#f5c594"}},
  {"data": {"name": "planck_res"}, "mark": {"type": "line", "color": "black", "strokeWidth": 2, "clip": true}, "encoding": {"detail": {"field": "seg"}}},
  {"data": {"name": "eds_res"}, "mark": {"type": "line", "color": "#555555", "strokeWidth": 2, "strokeDash": [8, 5], "clip": true}, "encoding": {"detail": {"field": "seg"}}},
  {"data": {"values": [{"t": "Planck 20", "lz": 0.1451, "res": 0}]}, "mark": {"type": "text", "font": "Liberation Serif", "fontSize": 16, "color": "#333333", "align": "left", "baseline": "middle"}, "encoding": {"text": {"field": "t"}}},
  {"data": {"values": [{"t": "Ωₘ=1", "lz": 0.167, "res": -0.667}]}, "mark": {"type": "text", "font": "Liberation Serif", "fontSize": 15, "color": "#444444", "align": "left", "baseline": "middle", "angle": 356}, "encoding": {"text": {"field": "t"}}}
]
}
],
"spacing": 0,
"bounds": "flush"
}
